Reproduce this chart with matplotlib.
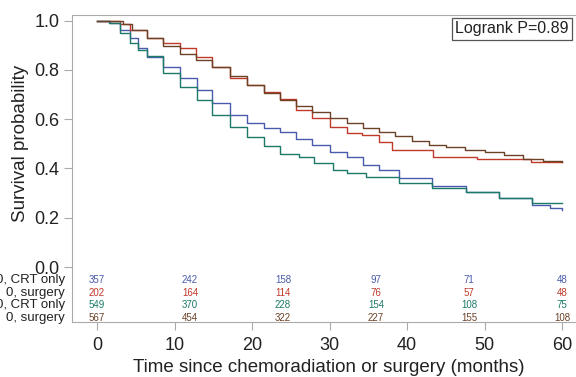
import matplotlib
matplotlib.use("Agg")
import matplotlib.pyplot as plt

plt.rcParams['font.family'] = ['Liberation Sans', 'DejaVu Sans']

# Kaplan-Meier estimates (months, survival)
t_blue = [0, 1.7, 3.0, 4.2, 5.3, 6.4, 8.5, 10.7, 12.9, 14.9, 17.1, 19.3, 21.5, 23.6, 25.7,
          27.8, 30.0, 32.2, 34.3, 36.4, 39.0, 43.2, 47.6, 51.9, 56.1, 58.5, 60]
s_blue = [1.0, 0.99, 0.96, 0.93, 0.89, 0.85, 0.81, 0.765, 0.717, 0.664, 0.615, 0.583, 0.565, 0.547, 0.52,
          0.494, 0.465, 0.445, 0.415, 0.393, 0.36, 0.33, 0.304, 0.28, 0.25, 0.24, 0.23]

t_red = [0, 3.0, 4.2, 6.4, 8.5, 10.7, 12.8, 14.9, 17.1, 19.3, 21.5, 23.6, 25.7, 27.8, 30.0,
         32.2, 34.2, 36.4, 38.0, 43.3, 49.0, 56.0, 60]
s_red = [1.0, 0.985, 0.96, 0.93, 0.91, 0.887, 0.85, 0.81, 0.765, 0.737, 0.71, 0.68, 0.636, 0.603, 0.567,
         0.545, 0.534, 0.506, 0.475, 0.445, 0.44, 0.425, 0.425]

t_green = [0, 1.5, 3.0, 4.2, 5.3, 6.4, 8.5, 10.7, 12.9, 14.9, 17.1, 19.3, 21.5, 23.6, 26.1,
           28.0, 30.4, 32.2, 34.7, 39.0, 43.2, 47.6, 51.9, 56.1, 60]
s_green = [1.0, 0.99, 0.95, 0.907, 0.88, 0.858, 0.785, 0.729, 0.676, 0.615, 0.567, 0.526, 0.49, 0.46, 0.445,
           0.42, 0.393, 0.38, 0.364, 0.34, 0.32, 0.304, 0.28, 0.26, 0.26]

t_brown = [0, 3.3, 4.5, 6.4, 8.5, 10.7, 12.8, 14.9, 17.1, 19.3, 21.5, 23.6, 25.7, 27.8, 30.0,
           32.2, 34.3, 36.4, 38.5, 40.6, 42.8, 45.0, 47.5, 50.0, 52.5, 55.0, 57.5, 60]
s_brown = [1.0, 0.985, 0.96, 0.927, 0.895, 0.866, 0.84, 0.81, 0.775, 0.737, 0.705, 0.676, 0.652, 0.628, 0.605,
           0.583, 0.565, 0.547, 0.53, 0.51, 0.495, 0.487, 0.475, 0.465, 0.455, 0.44, 0.432, 0.425]

# numbers at risk
risk_times = [0, 12, 24, 36, 48, 60]
risk_blue = [357, 242, 158, 97, 71, 48]
risk_red = [202, 164, 114, 76, 57, 48]
risk_green = [549, 370, 228, 154, 108, 75]
risk_brown = [567, 454, 322, 227, 155, 108]
row_labels = ["0, CRT only", "0, surgery", "0, CRT only", "0, surgery"]

c_blue = '#4b5bab'
c_red = '#c0392b'
c_green = '#1b7a68'
c_brown = '#6b4226'

W, H = 576, 377
fig = plt.figure(figsize=(W/100, H/100), dpi=100)
ax = fig.add_axes([72/W, 1-322/H, 1.02-72/W, (322-15)/H])

for t, s, c in [(t_blue, s_blue, c_blue), (t_red, s_red, c_red),
                (t_green, s_green, c_green), (t_brown, s_brown, c_brown)]:
    ax.step(t, s, where='post', color=c, lw=1.0)

xs = 465/60.0   # px per month
ys = 246.5      # px per unit survival
ax.set_xlim((72-97)/xs, (1.02*W-97)/xs)
ax.set_ylim(-(322-267)/ys, 1 + (20.5-15)/ys)

ax.set_xticks(range(0, 61, 10))
ax.set_yticks([0, 0.2, 0.4, 0.6, 0.8, 1.0])
ax.set_yticklabels(['0.0', '0.2', '0.4', '0.6', '0.8', '1.0'])
ax.tick_params(labelsize=13, color='#aaaaaa', length=6, labelcolor='#222222')
ax.tick_params(axis='y', pad=3)
ax.tick_params(axis='x', pad=5)
for sp in ['left', 'top', 'bottom']:
    ax.spines[sp].set_color('#aaaaaa')
ax.spines['right'].set_visible(False)

fig.text(329/W, 1-367/H, "Time since chemoradiation or surgery (months)", fontsize=13.5,
         color='#222222', ha='center', va='center')
fig.text(21/W, 1-143/H, "Survival probability", fontsize=13.5, color='#222222',
         ha='center', va='center', rotation=90)

rows_px = [280, 293, 305, 318]
for yp, counts, c, lab in zip(rows_px, [risk_blue, risk_red, risk_green, risk_brown],
                              [c_blue, c_red, c_green, c_brown], row_labels):
    y = -(yp-267)/ys
    for t, n in zip(risk_times, counts):
        ax.text(t, y, str(n), color=c, fontsize=7, ha='center', va='center')
    ax.text((65-97)/xs, y, lab, fontsize=9.5, color='#222222',
            ha='right', va='center', clip_on=False)

ax.text(512/W, 1-29/H, "Logrank P=0.89", transform=fig.transFigure, fontsize=11.5,
        color='#222222', ha='center', va='center',
        bbox=dict(boxstyle='square,pad=0.22', fc='white', ec='#555555', lw=0.9))

fig.savefig("out.png", dpi=100)
